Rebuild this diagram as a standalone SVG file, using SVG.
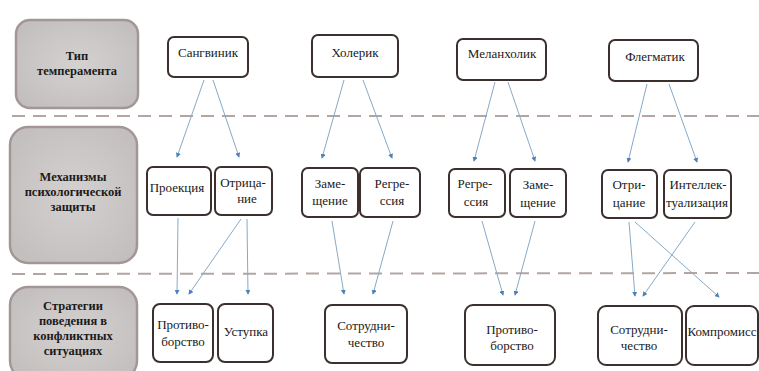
<svg xmlns="http://www.w3.org/2000/svg" width="759" height="371" viewBox="0 0 759 371" font-family="'Liberation Serif', 'DejaVu Serif', serif">
<style>
.cat{fill:url(#g);stroke:#a39696;stroke-width:2.5}
.cat-t{font-size:12.5px;font-weight:bold;fill:#1a1a1a;text-anchor:middle}
.nd{fill:#fff;stroke:#3b302d;stroke-width:2}
.t{font-size:13px;fill:#1a1a1a;text-anchor:middle}
.dash{stroke:#b3a5a2;stroke-width:2;stroke-dasharray:13 8;fill:none}
.c{stroke:#86a9c6;stroke-width:1;fill:none;marker-end:url(#a)}
</style>
<defs>
<radialGradient id="g" cx="50%" cy="50%" r="60%">
<stop offset="0" stop-color="#d4d1d1"/>
<stop offset="1" stop-color="#c4bfbf"/>
</radialGradient>
<marker id="a" viewBox="0 0 6 6" refX="5" refY="3" markerWidth="5" markerHeight="5" orient="auto" markerUnits="userSpaceOnUse">
<path d="M0,0 L6,3 L0,6 z" fill="#4f7fb8"/>
</marker>
</defs>
<rect width="759" height="371" fill="#fff"/>

<line class="dash" x1="12" y1="116" x2="759" y2="116"/>
<line class="dash" x1="12" y1="274" x2="759" y2="273"/>

<g id="cat1"><rect class="cat" x="16" y="20" width="122" height="88" rx="14"/>
<text class="cat-t" x="77" y="60">Тип</text><text class="cat-t" x="77" y="75">темперамента</text></g>
<g id="cat2"><rect class="cat" x="10" y="127" width="127" height="136" rx="18"/>
<text class="cat-t" x="73" y="181">Механизмы</text><text class="cat-t" x="73" y="196">психологической</text><text class="cat-t" x="73" y="211">защиты</text></g>
<g id="cat3"><rect class="cat" x="10" y="287" width="127" height="92" rx="18"/>
<text class="cat-t" x="73" y="310">Стратегии</text><text class="cat-t" x="73" y="325">поведения в</text><text class="cat-t" x="73" y="340">конфликтных</text><text class="cat-t" x="73" y="355">ситуациях</text></g>

<g id="connectors">
<line class="c" x1="204" y1="80" x2="177" y2="157"/>
<line class="c" x1="213" y1="80" x2="239" y2="157"/>
<line class="c" x1="344" y1="80" x2="322" y2="158"/>
<line class="c" x1="363" y1="80" x2="392" y2="158"/>
<line class="c" x1="495" y1="82" x2="474" y2="161"/>
<line class="c" x1="508" y1="82" x2="535" y2="161"/>
<line class="c" x1="647" y1="84" x2="628" y2="162"/>
<line class="c" x1="669" y1="84" x2="697" y2="162"/>
<line class="c" x1="178" y1="218" x2="177" y2="294"/>
<line class="c" x1="241" y1="219" x2="189" y2="294"/>
<line class="c" x1="247" y1="219" x2="248" y2="294"/>
<line class="c" x1="332" y1="221" x2="344" y2="294"/>
<line class="c" x1="393" y1="221" x2="373" y2="294"/>
<line class="c" x1="482" y1="221" x2="503" y2="295"/>
<line class="c" x1="535" y1="221" x2="515" y2="295"/>
<line class="c" x1="629" y1="222" x2="635" y2="296"/>
<line class="c" x1="635" y1="222" x2="719" y2="297"/>
<line class="c" x1="695" y1="222" x2="643" y2="296"/>
</g>

<g id="sangvinik"><rect class="nd" x="168" y="37" width="80" height="40" rx="6"/><text class="t" x="208" y="57">Сангвиник</text></g>
<g id="holerik"><rect class="nd" x="312" y="35" width="86" height="42" rx="6"/><text class="t" x="355" y="57">Холерик</text></g>
<g id="melanholik"><rect class="nd" x="457" y="39" width="89" height="41" rx="6"/><text class="t" x="502" y="58">Меланхолик</text></g>
<g id="flegmatik"><rect class="nd" x="609" y="40" width="89" height="41" rx="6"/><text class="t" x="655" y="61">Флегматик</text></g>

<g id="proekciya"><rect class="nd" x="147" y="167" width="64" height="48" rx="6"/><text class="t" x="177" y="192">Проекция</text></g>
<g id="otricanie1"><rect class="nd" x="215" y="167" width="57" height="48" rx="6"/><text class="t" x="243" y="187">Отрица-</text><text class="t" x="247" y="203">ние</text></g>
<g id="zameshchenie1"><rect class="nd" x="302" y="168" width="56" height="49" rx="6"/><text class="t" x="330" y="188">Заме-</text><text class="t" x="330" y="205">щение</text></g>
<g id="regressiya1"><rect class="nd" x="360" y="168" width="60" height="49" rx="6"/><text class="t" x="392" y="188">Регре-</text><text class="t" x="392" y="205">ссия</text></g>
<g id="regressiya2"><rect class="nd" x="449" y="169" width="56" height="48" rx="6"/><text class="t" x="475" y="188">Регре-</text><text class="t" x="476" y="206">ссия</text></g>
<g id="zameshchenie2"><rect class="nd" x="510" y="169" width="56" height="48" rx="6"/><text class="t" x="538" y="189">Заме-</text><text class="t" x="538" y="207">щение</text></g>
<g id="otricanie2"><rect class="nd" x="602" y="170" width="55" height="48" rx="6"/><text class="t" x="629" y="189">Отри-</text><text class="t" x="629" y="207">цание</text></g>
<g id="intellektualizaciya"><rect class="nd" x="664" y="170" width="67" height="48" rx="6"/><text class="t" x="698" y="189">Интеллек-</text><text class="t" x="697" y="207">туализация</text></g>

<g id="protivoborstvo1"><rect class="nd" x="153" y="304" width="60" height="58" rx="7"/><text class="t" x="183" y="329">Противо-</text><text class="t" x="183" y="346">борство</text></g>
<g id="ustupka"><rect class="nd" x="218" y="304" width="55" height="58" rx="7"/><text class="t" x="246" y="336">Уступка</text></g>
<g id="sotrudnichestvo1"><rect class="nd" x="325" y="305" width="82" height="58" rx="7"/><text class="t" x="366" y="330">Сотрудни-</text><text class="t" x="366" y="347">чество</text></g>
<g id="protivoborstvo2"><rect class="nd" x="465" y="305" width="90" height="60" rx="8"/><text class="t" x="512" y="334">Противо-</text><text class="t" x="512" y="350">борство</text></g>
<g id="sotrudnichestvo2"><rect class="nd" x="598" y="306" width="84" height="59" rx="8"/><text class="t" x="639" y="334">Сотрудни-</text><text class="t" x="639" y="350">чество</text></g>
<g id="kompromiss"><rect class="nd" x="686" y="306" width="72" height="59" rx="8"/><text class="t" x="722" y="336">Компромисс</text></g>
</svg>
